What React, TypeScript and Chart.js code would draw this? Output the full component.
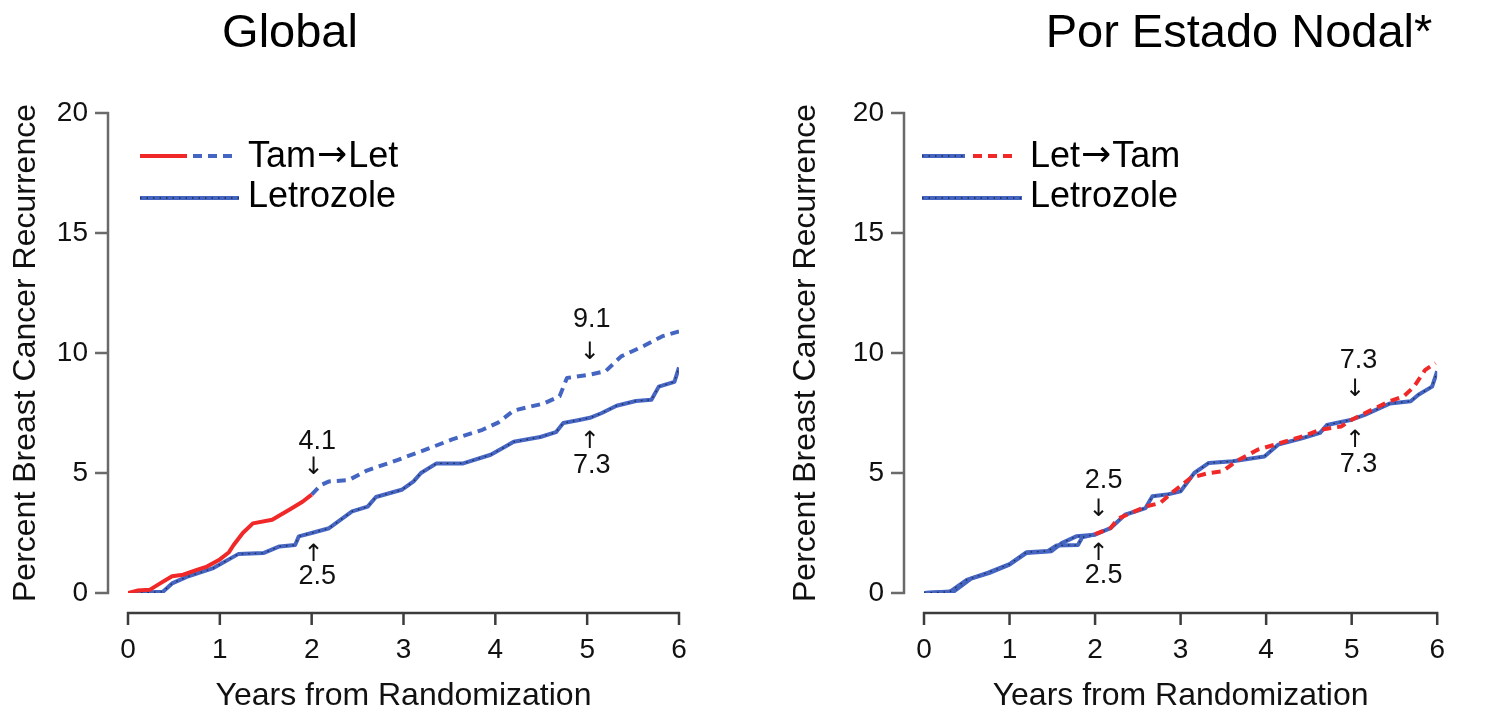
import React, { useEffect, useRef } from "react";
import { Chart, registerables } from "chart.js";

Chart.register(...registerables);

const FONT = "'Liberation Sans', Arial, Helvetica, sans-serif";
const ARROW_FONT = "'DejaVu Sans', 'Liberation Sans', sans-serif";
const BLUE = "#4565c2";
const RED = "#f02828";
const DOTS = "rgba(25,25,45,0.8)";
const INK = "#111111";

// ---------- shared axis ticks ----------
const X_TICKS = [0, 1, 2, 3, 4, 5, 6];
const Y_TICKS = [0, 5, 10, 15, 20];
const X_TITLE = "Years from Randomization";
const Y_TITLE = "Percent Breast Cancer Recurrence";

// ---------- Global panel ----------
const globalTamT = [0, 0.1, 0.24, 0.35, 0.48, 0.6, 0.75, 0.86, 1.0, 1.1, 1.15, 1.19, 1.25, 1.36, 1.57, 1.77, 1.9, 2.0];
const globalTamV = [0, 0.1, 0.14, 0.4, 0.7, 0.76, 0.96, 1.1, 1.4, 1.7, 2.0, 2.2, 2.5, 2.9, 3.05, 3.5, 3.8, 4.1];

const globalLetSwitchT = [2.0, 2.1, 2.19, 2.4, 2.6, 2.94, 3.24, 3.53, 3.86, 4.03, 4.2, 4.53, 4.7, 4.78, 5.03, 5.2, 5.37, 5.62, 5.82, 6.0];
const globalLetSwitchV = [4.1, 4.5, 4.65, 4.7, 5.1, 5.55, 5.97, 6.4, 6.8, 7.1, 7.6, 7.9, 8.2, 8.96, 9.1, 9.24, 9.86, 10.3, 10.7, 10.9];

const globalLetrozoleT = [0, 0.38, 0.48, 0.64, 0.93, 1.2, 1.48, 1.65, 1.82, 1.86, 2.0, 2.19, 2.44, 2.61, 2.7, 2.98, 3.11, 3.19, 3.36, 3.65, 3.95, 4.11, 4.2, 4.49, 4.66, 4.74, 4.9, 5.03, 5.16, 5.32, 5.53, 5.7, 5.78, 5.95, 6.0];
const globalLetrozoleV = [0, 0.05, 0.4, 0.67, 1.04, 1.62, 1.67, 1.94, 2.0, 2.36, 2.5, 2.7, 3.4, 3.6, 4.0, 4.3, 4.65, 5.0, 5.4, 5.4, 5.76, 6.1, 6.3, 6.5, 6.7, 7.08, 7.2, 7.3, 7.5, 7.8, 8.0, 8.05, 8.6, 8.8, 9.4];

const globalNoteText = ["4.1", "2.5", "9.1", "7.3"];
const globalNoteX = [2.06, 2.06, 5.05, 5.05];
const globalNoteV = [6.3, 0.67, 11.4, 5.3];
const globalArrowGlyph = ["↓", "↑", "↓", "↑"];
const globalArrowX = [2.02, 2.02, 5.03, 5.03];
const globalArrowV = [5.2, 1.6, 10.0, 6.3];

// ---------- Nodal panel ----------
const nodalLetPhaseT = [0, 0.3, 0.5, 0.75, 1.0, 1.2, 1.45, 1.55, 1.8, 1.85, 2.0];
const nodalLetPhaseV = [0, 0.05, 0.55, 0.85, 1.2, 1.7, 1.75, 1.98, 2.0, 2.32, 2.45];

const nodalTamPhaseT = [2.0, 2.18, 2.27, 2.59, 2.76, 2.92, 3.12, 3.33, 3.49, 3.65, 3.9, 4.1, 4.43, 4.63, 4.88, 5.0, 5.2, 5.45, 5.61, 5.73, 5.86, 5.98];
const nodalTamPhaseV = [2.45, 2.7, 3.1, 3.6, 3.75, 4.24, 4.8, 5.0, 5.07, 5.49, 5.97, 6.18, 6.53, 6.8, 6.94, 7.22, 7.57, 8.0, 8.2, 8.6, 9.3, 9.58];

const nodalLetrozoleT = [0, 0.35, 0.55, 0.76, 1.0, 1.2, 1.49, 1.61, 1.78, 2.0, 2.18, 2.35, 2.59, 2.67, 2.84, 3.0, 3.16, 3.33, 3.61, 3.98, 4.14, 4.43, 4.63, 4.71, 5.0, 5.16, 5.45, 5.69, 5.78, 5.94, 6.0];
const nodalLetrozoleV = [0, 0.07, 0.6, 0.83, 1.18, 1.67, 1.74, 2.08, 2.36, 2.43, 2.7, 3.26, 3.54, 4.03, 4.1, 4.24, 5.0, 5.42, 5.49, 5.69, 6.18, 6.46, 6.67, 7.0, 7.22, 7.43, 7.9, 7.99, 8.26, 8.6, 9.24];

const nodalNoteText = ["2.5", "2.5", "7.3", "7.3"];
const nodalNoteX = [2.1, 2.1, 5.08, 5.08];
const nodalNoteV = [4.7, 0.72, 9.7, 5.35];
const nodalArrowGlyph = ["↓", "↑", "↓", "↑"];
const nodalArrowX = [2.04, 2.04, 5.04, 5.04];
const nodalArrowV = [3.46, 1.65, 8.45, 6.35];

// ---------- helpers ----------
const pts = (t: number[], v: number[]) => t.map((x, i) => ({ x, y: v[i] }));

function line(t: number[], v: number[], color: string, width: number, dash: number[] = []) {
  return {
    data: pts(t, v),
    borderColor: color,
    borderWidth: width,
    borderDash: dash,
    borderCapStyle: "butt",
    borderJoinStyle: "round",
    pointRadius: 0,
    pointHoverRadius: 0,
    fill: false,
    tension: 0,
  };
}

type Seg = { x0: number; x1: number; color: string; dash?: number[]; dots?: boolean };
type LegendRow = { y: number; textX: number; textY: number; text: string; segs: Seg[] };

interface PanelSpec {
  title: string;
  titleX: number;
  datasets: any[];
  legend: LegendRow[];
  notes: { text: string[]; x: number[]; v: number[]; glyph: string[]; ax: number[]; av: number[] };
  yAxisWidth: number;
  padRight: number;
  yLabelPad: number;
  yTitlePad: number;
}

function drawLegendText(ctx: CanvasRenderingContext2D, text: string, x: number, y: number) {
  const parts = text.split("→");
  const main = `36px ${FONT}`;
  const arr = `36px ${ARROW_FONT}`;
  let cx = x;
  parts.forEach((part, i) => {
    ctx.font = main;
    ctx.fillText(part, cx, y);
    cx += ctx.measureText(part).width;
    if (i < parts.length - 1) {
      ctx.font = arr;
      ctx.fillText("→", cx + 1, y - 1);
      cx += ctx.measureText("→").width + 2;
    }
  });
}

function makeConfig(p: PanelSpec): any {
  const decor = {
    id: "decor",
    afterDraw(chart: any) {
      const { ctx, chartArea, scales } = chart;
      const xs = scales.x;
      const ys = scales.y;
      ctx.save();
      // detached y axis
      const ax = chartArea.left - 20;
      ctx.strokeStyle = "#6a6a6a";
      ctx.lineWidth = 2.5;
      ctx.beginPath();
      ctx.moveTo(ax, ys.getPixelForValue(Y_TICKS[Y_TICKS.length - 1]) - 1);
      ctx.lineTo(ax, ys.getPixelForValue(Y_TICKS[0]) + 1);
      for (const v of Y_TICKS) {
        const py = ys.getPixelForValue(v);
        ctx.moveTo(ax - 13, py);
        ctx.lineTo(ax + 1, py);
      }
      ctx.stroke();
      // detached x axis
      const ay = chartArea.bottom + 20;
      ctx.strokeStyle = "#3c3c3c";
      ctx.beginPath();
      ctx.moveTo(xs.getPixelForValue(X_TICKS[0]) - 1, ay);
      ctx.lineTo(xs.getPixelForValue(X_TICKS[X_TICKS.length - 1]) + 1, ay);
      for (const v of X_TICKS) {
        const px = xs.getPixelForValue(v);
        ctx.moveTo(px, ay - 1);
        ctx.lineTo(px, ay + 12);
      }
      ctx.stroke();

      // title
      ctx.fillStyle = "#000";
      ctx.font = `47px ${FONT}`;
      ctx.textAlign = "center";
      ctx.textBaseline = "alphabetic";
      ctx.fillText(p.title, p.titleX, 47);

      // legend
      for (const row of p.legend) {
        for (const s of row.segs) {
          ctx.beginPath();
          ctx.strokeStyle = s.color;
          ctx.lineWidth = 4;
          ctx.setLineDash(s.dash || []);
          ctx.moveTo(s.x0, row.y);
          ctx.lineTo(s.x1, row.y);
          ctx.stroke();
          if (s.dots) {
            ctx.beginPath();
            ctx.strokeStyle = DOTS;
            ctx.lineWidth = 1.3;
            ctx.setLineDash([1.5, 5]);
            ctx.moveTo(s.x0, row.y);
            ctx.lineTo(s.x1, row.y);
            ctx.stroke();
          }
        }
        ctx.setLineDash([]);
        ctx.fillStyle = "#000";
        ctx.textAlign = "left";
        ctx.textBaseline = "alphabetic";
        drawLegendText(ctx, row.text, row.textX, row.textY);
      }

      // annotations
      ctx.fillStyle = INK;
      ctx.textAlign = "center";
      ctx.textBaseline = "middle";
      const n = p.notes;
      for (let i = 0; i < n.text.length; i++) {
        ctx.font = `27px ${FONT}`;
        ctx.fillText(n.text[i], xs.getPixelForValue(n.x[i]), ys.getPixelForValue(n.v[i]));
        ctx.font = `24px ${ARROW_FONT}`;
        ctx.fillText(n.glyph[i], xs.getPixelForValue(n.ax[i]), ys.getPixelForValue(n.av[i]));
      }
      ctx.restore();
    },
  };

  return {
    type: "line",
    data: { datasets: p.datasets },
    options: {
      animation: false,
      responsive: true,
      maintainAspectRatio: false,
      events: [],
      layout: { padding: { top: 113, right: p.padRight, bottom: 0, left: 0 } },
      plugins: { legend: { display: false }, title: { display: false }, tooltip: { enabled: false } },
      scales: {
        x: {
          type: "linear",
          min: 0,
          max: 6,
          afterBuildTicks: (s: any) => {
            s.ticks = X_TICKS.map((value) => ({ value }));
          },
          afterFit: (s: any) => {
            s.height = 121;
          },
          grid: { display: false, drawTicks: false },
          border: { display: false },
          ticks: { padding: 40, color: INK, font: { family: FONT, size: 28 }, maxRotation: 0 },
          title: {
            display: true,
            text: X_TITLE,
            color: INK,
            font: { family: FONT, size: 32, lineHeight: 1 },
            padding: { top: 0, bottom: 2 },
          },
        },
        y: {
          type: "linear",
          min: 0,
          max: 20,
          afterBuildTicks: (s: any) => {
            s.ticks = Y_TICKS.map((value) => ({ value }));
          },
          afterFit: (s: any) => {
            s.width = p.yAxisWidth;
          },
          grid: { display: false, drawTicks: false },
          border: { display: false },
          ticks: { padding: p.yLabelPad, color: INK, font: { family: FONT, size: 28 } },
          title: {
            display: true,
            text: Y_TITLE,
            color: INK,
            font: { family: FONT, size: 32, lineHeight: 1 },
            padding: { top: p.yTitlePad, bottom: 0 },
          },
        },
      },
    },
    plugins: [decor],
  };
}

const globalSpec: PanelSpec = {
  title: "Global",
  titleX: 290,
  datasets: [
    line(globalTamT, globalTamV, RED, 4),
    line(globalLetrozoleT, globalLetrozoleV, DOTS, 1.3, [1.5, 5]),
    line(globalLetrozoleT, globalLetrozoleV, BLUE, 4),
    line(globalLetSwitchT, globalLetSwitchV, BLUE, 4, [9, 6]),
  ],
  legend: [
    {
      y: 156,
      textX: 248,
      textY: 167,
      text: "Tam→Let",
      segs: [
        { x0: 140, x1: 187, color: RED },
        { x0: 193, x1: 237, color: BLUE, dash: [9, 6] },
      ],
    },
    { y: 198, textX: 248, textY: 207, text: "Letrozole", segs: [{ x0: 140, x1: 239, color: BLUE, dots: true }] },
  ],
  notes: {
    text: globalNoteText,
    x: globalNoteX,
    v: globalNoteV,
    glyph: globalArrowGlyph,
    ax: globalArrowX,
    av: globalArrowV,
  },
  yAxisWidth: 128,
  padRight: 63,
  yLabelPad: 40,
  yTitlePad: 10,
};

const nodalSpec: PanelSpec = {
  title: "Por Estado Nodal*",
  titleX: 497,
  datasets: [
    line(nodalTamPhaseT, nodalTamPhaseV, RED, 4, [9, 6]),
    line(nodalLetPhaseT, nodalLetPhaseV, DOTS, 1.3, [1.5, 5]),
    line(nodalLetPhaseT, nodalLetPhaseV, BLUE, 4),
    line(nodalLetrozoleT, nodalLetrozoleV, DOTS, 1.3, [1.5, 5]),
    line(nodalLetrozoleT, nodalLetrozoleV, BLUE, 4),
  ],
  legend: [
    {
      y: 156,
      textX: 288,
      textY: 167,
      text: "Let→Tam",
      segs: [
        { x0: 180, x1: 223, color: BLUE, dots: true },
        { x0: 231, x1: 273, color: RED, dash: [9, 6] },
      ],
    },
    { y: 198, textX: 288, textY: 207, text: "Letrozole", segs: [{ x0: 180, x1: 280, color: BLUE, dots: true }] },
  ],
  notes: {
    text: nodalNoteText,
    x: nodalNoteX,
    v: nodalNoteV,
    glyph: nodalArrowGlyph,
    ax: nodalArrowX,
    av: nodalArrowV,
  },
  yAxisWidth: 182,
  padRight: 12,
  yLabelPad: 40,
  yTitlePad: 48,
};

function Panel({ spec, left, width }: { spec: PanelSpec; left: number; width: number }) {
  const ref = useRef<HTMLCanvasElement>(null);
  useEffect(() => {
    const chart = new Chart(ref.current as HTMLCanvasElement, makeConfig(spec));
    return () => chart.destroy();
  }, [spec]);
  return (
    <div style={{ position: "absolute", left, top: 0, width, height: 714 }}>
      <canvas ref={ref} />
    </div>
  );
}

export default function App() {
  return (
    <div
      style={{
        position: "fixed",
        left: 0,
        top: 0,
        width: 1485,
        height: 714,
        background: "#ffffff",
        overflow: "hidden",
      }}
    >
      <Panel spec={globalSpec} left={0} width={742} />
      <Panel spec={nodalSpec} left={742} width={743} />
    </div>
  );
}
